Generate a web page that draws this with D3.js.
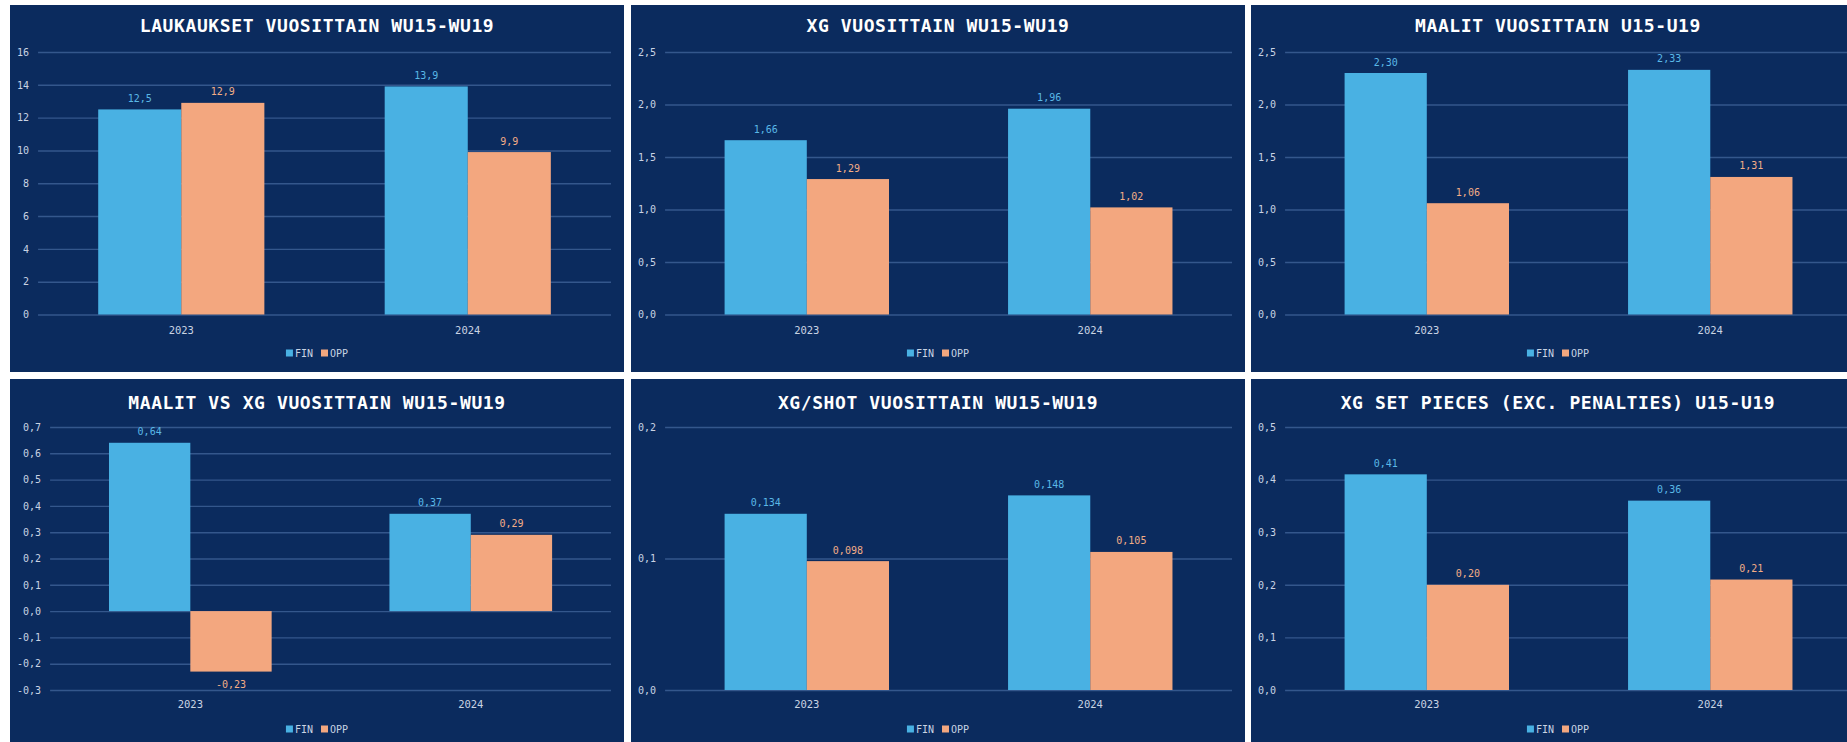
<!DOCTYPE html>
<html><head><meta charset="utf-8">
<script src="https://cdn.jsdelivr.net/npm/d3@7"></script>
<style>
html,body{margin:0;padding:0;background:#fff;overflow:hidden}
svg{display:block}
</style></head><body>
<svg id="c" width="1847" height="742"></svg>
<script>
// ---------- DATA ----------
const categories = ["2023", "2024"];
const seriesNames = ["FIN", "OPP"];

const titleShots = "LAUKAUKSET VUOSITTAIN WU15-WU19";
const titleXg = "XG VUOSITTAIN WU15-WU19";
const titleGoals = "MAALIT VUOSITTAIN U15-U19";
const titleGoalsVsXg = "MAALIT VS XG VUOSITTAIN WU15-WU19";
const titleXgShot = "XG/SHOT VUOSITTAIN WU15-WU19";
const titleXgSet = "XG SET PIECES (EXC. PENALTIES) U15-U19";

const shotsFIN = [12.5, 13.9];
const shotsOPP = [12.9, 9.9];
const xgFIN = [1.66, 1.96];
const xgOPP = [1.29, 1.02];
const goalsFIN = [2.30, 2.33];
const goalsOPP = [1.06, 1.31];
const goalsVsXgFIN = [0.64, 0.37];
const goalsVsXgOPP = [-0.23, 0.29];
const xgShotFIN = [0.134, 0.148];
const xgShotOPP = [0.098, 0.105];
const xgSetFIN = [0.41, 0.36];
const xgSetOPP = [0.20, 0.21];

const ticksShots = [0, 2, 4, 6, 8, 10, 12, 14, 16];
const ticksXg = [0, 0.5, 1.0, 1.5, 2.0, 2.5];
const ticksGoals = [0, 0.5, 1.0, 1.5, 2.0, 2.5];
const ticksGoalsVsXg = [-0.3, -0.2, -0.1, 0, 0.1, 0.2, 0.3, 0.4, 0.5, 0.6, 0.7];
const ticksXgShot = [0, 0.1, 0.2];
const ticksXgSet = [0, 0.1, 0.2, 0.3, 0.4, 0.5];

// tick label decimals / data label decimals
const tickDecimals = [0, 1, 1, 1, 1, 1];
const labelDecimals = [1, 2, 2, 2, 3, 2];

// ---------- LAYOUT / STYLE ----------
const colors = {FIN: "#49b1e3", OPP: "#f3a77f"};
const labelColors = {FIN: "#5ab8e6", OPP: "#f3ad86"};
const panelFill = "#0b2b5e";
const gridColor = "#34578c";
const textColor = "#c9d3e3";
const FONT = "'DejaVu Sans Mono', monospace";

const colX = [10, 631, 1251];
const panelW = 614;
const rows = [
  {top: 5, h: 367, titleY: 25, plotTop: 52, plotBottom: 314.5, catY: 330, legendY: 353},
  {top: 379, h: 363, titleY: 402, plotTop: 427, plotBottom: 690, catY: 704, legendY: 729}
];

const charts = [
  {title: titleShots, fin: shotsFIN, opp: shotsOPP, ticks: ticksShots},
  {title: titleXg, fin: xgFIN, opp: xgOPP, ticks: ticksXg},
  {title: titleGoals, fin: goalsFIN, opp: goalsOPP, ticks: ticksGoals},
  {title: titleGoalsVsXg, fin: goalsVsXgFIN, opp: goalsVsXgOPP, ticks: ticksGoalsVsXg},
  {title: titleXgShot, fin: xgShotFIN, opp: xgShotOPP, ticks: ticksXgShot},
  {title: titleXgSet, fin: xgSetFIN, opp: xgSetOPP, ticks: ticksXgSet}
];

const fmt = (v, d) => {
  let s = Math.abs(v) < 1e-9 ? (0).toFixed(d) : v.toFixed(d);
  return s.replace(".", ",");
};

const svg = d3.select("#c");

function measure(txt, size, weight) {
  const t = svg.append("text").attr("font-family", FONT).attr("font-size", size)
    .attr("font-weight", weight || "normal").text(txt);
  const w = t.node().getComputedTextLength();
  t.remove();
  return w;
}

charts.forEach((c, i) => {
  const row = rows[Math.floor(i / 3)];
  const px = colX[i % 3];
  const g = svg.append("g");
  g.append("rect").attr("x", px).attr("y", row.top).attr("width", panelW).attr("height", row.h)
    .attr("fill", panelFill);

  const td = tickDecimals[i];
  const tickLabels = c.ticks.map(t => fmt(t, td));
  const maxW = d3.max(tickLabels, l => measure(l, 10));
  const labelRight = px + 7 + maxW;
  const plotLeft = labelRight + 9;
  const plotRight = px + panelW - 13;

  const y = d3.scaleLinear().domain([c.ticks[0], c.ticks[c.ticks.length - 1]])
    .range([row.plotBottom, row.plotTop]);
  const x0 = d3.scaleBand().domain(categories).range([plotLeft, plotRight]).padding(0);
  const groupW = x0.bandwidth() * 0.58;
  const x1 = d3.scaleBand().domain(seriesNames).range([0, groupW]).padding(0);

  // title
  g.append("text").attr("x", px + panelW / 2).attr("y", row.titleY)
    .attr("text-anchor", "middle").attr("dominant-baseline", "central")
    .attr("font-family", FONT).attr("font-weight", "bold").attr("font-size", 18)
    .attr("letter-spacing", "0.6px").attr("fill", "#ffffff").text(c.title);

  // y axis (gridlines + labels)
  const yAxis = d3.axisLeft(y).tickValues(c.ticks).tickFormat(t => fmt(t, td))
    .tickSize(-(plotRight - plotLeft)).tickPadding(0);
  const ag = g.append("g").attr("transform", `translate(${plotLeft},0)`).call(yAxis);
  ag.select(".domain").remove();
  ag.selectAll(".tick line").attr("stroke", gridColor).attr("stroke-width", 1.4);
  ag.selectAll(".tick text").attr("x", -(plotLeft - labelRight)).attr("fill", textColor)
    .attr("font-family", FONT).attr("font-size", 10);

  // bars
  const data = [];
  categories.forEach((cat, k) => {
    data.push({cat, s: "FIN", v: c.fin[k]});
    data.push({cat, s: "OPP", v: c.opp[k]});
  });
  const off = (x0.bandwidth() - groupW) / 2;
  g.selectAll("rect.bar").data(data).enter().append("rect").attr("class", "bar")
    .attr("x", d => x0(d.cat) + off + x1(d.s))
    .attr("width", x1.bandwidth())
    .attr("y", d => Math.min(y(d.v), y(0)))
    .attr("height", d => Math.abs(y(d.v) - y(0)))
    .attr("fill", d => colors[d.s]);

  // data labels
  g.selectAll("text.dl").data(data).enter().append("text").attr("class", "dl")
    .attr("x", d => x0(d.cat) + off + x1(d.s) + x1.bandwidth() / 2)
    .attr("y", d => d.v >= 0 ? y(d.v) - 11 : y(d.v) + 13)
    .attr("text-anchor", "middle").attr("dominant-baseline", "central")
    .attr("font-family", FONT).attr("font-size", 10)
    .attr("fill", d => labelColors[d.s])
    .text(d => fmt(d.v, labelDecimals[i]));

  // category labels
  g.selectAll("text.cat").data(categories).enter().append("text").attr("class", "cat")
    .attr("x", d => x0(d) + x0.bandwidth() / 2).attr("y", row.catY)
    .attr("text-anchor", "middle").attr("dominant-baseline", "central")
    .attr("font-family", FONT).attr("font-size", 10.5).attr("fill", textColor).text(d => d);

  // legend
  const sq = 7, gap1 = 2, gap2 = 8;
  const widths = seriesNames.map(s => measure(s, 10));
  const total = sq + gap1 + widths[0] + gap2 + sq + gap1 + widths[1];
  let lx = px + panelW / 2 - total / 2;
  const lg = g.append("g");
  seriesNames.forEach((s, k) => {
    lg.append("rect").attr("x", lx).attr("y", row.legendY - sq / 2).attr("width", sq).attr("height", sq)
      .attr("fill", colors[s]);
    lx += sq + gap1;
    lg.append("text").attr("x", lx).attr("y", row.legendY).attr("dominant-baseline", "central")
      .attr("font-family", FONT).attr("font-size", 10).attr("fill", textColor).text(s);
    lx += widths[k] + gap2;
  });
});
</script>
</body></html>
